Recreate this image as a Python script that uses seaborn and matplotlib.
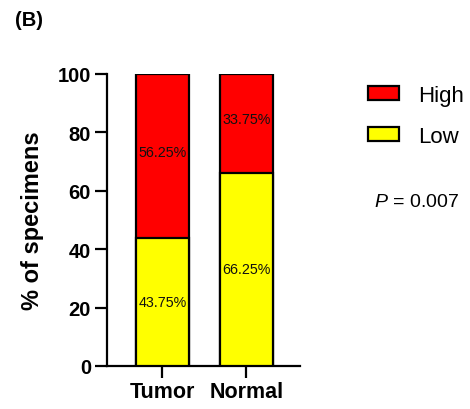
import matplotlib
matplotlib.use("Agg")
import matplotlib.pyplot as plt
import seaborn as sns
import pandas as pd
from matplotlib.patches import Patch

groups = ["Tumor", "Normal"]
low = [43.75, 66.25]
high = [56.25, 33.75]
yticks = [0, 20, 40, 60, 80, 100]

sns.set_style("ticks")
plt.rcParams['font.family'] = ['Liberation Sans', 'DejaVu Sans']
plt.rcParams['mathtext.fontset'] = 'custom'
plt.rcParams['mathtext.it'] = 'Liberation Sans:italic'
plt.rcParams['mathtext.rm'] = 'Liberation Sans'
plt.rcParams['text.color'] = 'black'
plt.rcParams['axes.labelcolor'] = 'black'
plt.rcParams['xtick.color'] = 'black'
plt.rcParams['ytick.color'] = 'black'

df = pd.DataFrame({"group": groups, "low": low, "high": high})
df["total"] = df["low"] + df["high"]

fig = plt.figure(figsize=(4.7, 4.1), dpi=100)
ax = fig.add_axes([107/470, 1-367/410, (300-107)/470, (367-75)/410])

red = "#ff0000"
yellow = "#ffff00"
lw = 1.6
sns.barplot(data=df, x="group", y="total", color=red, edgecolor="black",
            linewidth=lw, width=0.63, saturation=1, ax=ax, zorder=2)
sns.barplot(data=df, x="group", y="low", color=yellow, edgecolor="black",
            linewidth=lw, width=0.63, saturation=1, ax=ax, zorder=3)

for i in range(len(groups)):
    ax.text(i, low[i] / 2, f"{low[i]:.2f}%", ha="center", va="center",
            fontsize=10.3, color="#111111", zorder=5)
    ax.text(i, low[i] + high[i] / 2 + 1.5, f"{high[i]:.2f}%", ha="center", va="center",
            fontsize=10.3, color="#111111", zorder=5)

ax.set_ylim(0, 100)
ax.set_xlim(-0.66, 1.64)
ax.set_yticks(yticks)
ax.set_yticklabels([str(t) for t in yticks], fontsize=14.5, fontweight="bold")
ax.set_xticks(range(len(groups)))
ax.set_xticklabels(groups, fontsize=15.5, fontweight="bold")
ax.set_xlabel("")
ax.set_ylabel("% of specimens", fontsize=17, fontweight="bold", labelpad=10)
for s in ["top", "right"]:
    ax.spines[s].set_visible(False)
for s in ["left", "bottom"]:
    ax.spines[s].set_linewidth(1.6)
    ax.spines[s].set_color("black")
ax.tick_params(axis="both", width=1.6, length=8.5, color="black", pad=3)
ax.tick_params(axis="x", pad=2)

handles = [Patch(facecolor=red, edgecolor="black", linewidth=1.6, label="High"),
           Patch(facecolor=yellow, edgecolor="black", linewidth=1.6, label="Low")]
fig.legend(handles=handles, loc="upper left", bbox_to_anchor=(368/470, 1-86/410),
           frameon=False, fontsize=16, handlelength=1.4, handleheight=0.63,
           handletextpad=0.85, labelspacing=0.9, borderpad=0, borderaxespad=0)

fig.text(374/470, 1-203/410, r"$\it{P}$ = 0.007", fontsize=14, ha="left", va="center")
fig.text(15/470, 1-20/410, "(B)", fontsize=14.5, fontweight="bold", ha="left", va="center")

fig.savefig("out.png", dpi=100)
